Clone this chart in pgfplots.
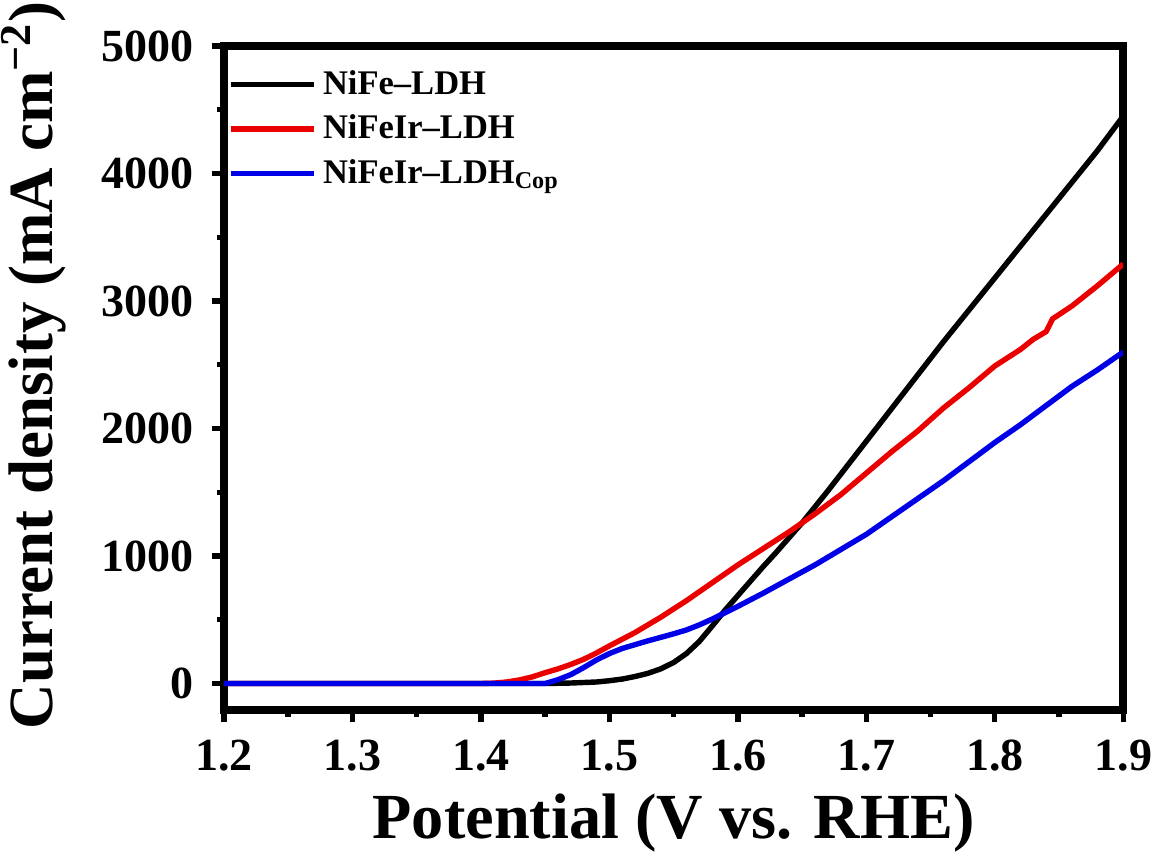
\documentclass[border=0pt]{standalone}
\usepackage{fontspec}
\setmainfont{Liberation Serif}
\usepackage{pgfplots}
\pgfplotsset{compat=1.18}

\definecolor{cblue}{RGB}{0,0,230}
\definecolor{cred}{RGB}{235,0,0}

\begin{document}
\begin{tikzpicture}
\begin{axis}[
    scale only axis,
    width=9.34cm, height=6.9cm,
    xmin=1.2, xmax=1.9,
    ymin=-210, ymax=5000,
    xtick={1.2,1.3,...,1.9},
    ytick={0,1000,...,5000},
    minor x tick num=1,
    minor y tick num=1,
    xtick pos=left, ytick pos=left,
    tick align=outside,
    major tick length=0.125cm,
    minor tick length=0.07cm,
    axis line style={line width=2.3pt},
    every tick/.style={black, line width=1.6pt},
    x tick label style={/pgf/number format/fixed, /pgf/number format/precision=1,
        /pgf/number format/fixed zerofill, inner sep=0pt, anchor=north},
    y tick label style={/pgf/number format/1000 sep={}, inner sep=0pt, anchor=east},
    /pgf/number format/assume math mode=true,
    tick label style={font=\fontsize{13.6}{16}\selectfont\bfseries},
    xticklabel shift=0.18cm,
    yticklabel shift=0.18cm,
    scaled ticks=false,
    xlabel={\fontsize{19}{22}\selectfont\bfseries Potential (V vs. RHE)},
    ylabel={\fontsize{18.6}{22}\selectfont\bfseries Current density (mA cm\textsuperscript{−2})},
    xlabel style={at={(axis description cs:0.5,-0.122)}, anchor=north, inner sep=0.5pt},
    ylabel style={at={(axis description cs:-0.1734,0.519)}, anchor=south, inner sep=0.5pt},
    legend style={draw=none, fill=none, at={(0.0,0.985)}, anchor=north west,
        xshift=-0.07cm,
        font=\fontsize{10.2}{12}\selectfont\bfseries, row sep=0.02cm,
        /tikz/every even column/.append style={column sep=0.05cm}},
    legend cell align=left,
    legend image code/.code={\draw[#1, line width=1.6pt] (0cm,0cm) -- (0.86cm,0cm);},
    every axis plot/.append style={line width=1.6pt},
]
\addplot[black] coordinates {
(1.20,0) (1.45,0) (1.47,4) (1.49,12) (1.50,22) (1.51,35) (1.52,55) (1.53,80)
(1.54,115) (1.55,165) (1.56,235) (1.57,330) (1.58,450) (1.59,575) (1.60,690)
(1.61,805) (1.62,920) (1.63,1030) (1.64,1145) (1.65,1260) (1.66,1385) (1.67,1510)
(1.68,1640) (1.69,1770) (1.70,1900) (1.72,2160) (1.74,2420) (1.76,2680)
(1.78,2930) (1.80,3180) (1.82,3430) (1.84,3680) (1.86,3930) (1.88,4180) (1.90,4450)
};
\addplot[cred] coordinates {
(1.20,0) (1.40,0) (1.41,3) (1.42,12) (1.43,28) (1.44,52) (1.45,85) (1.46,115)
(1.47,150) (1.48,190) (1.49,240) (1.50,295) (1.52,400) (1.54,520) (1.56,650)
(1.58,790) (1.60,930) (1.62,1060) (1.64,1190) (1.65,1260) (1.66,1330) (1.68,1480)
(1.70,1650) (1.72,1820) (1.74,1980) (1.76,2160) (1.78,2320) (1.80,2490)
(1.82,2620) (1.83,2700) (1.84,2760) (1.845,2860) (1.86,2960) (1.88,3120) (1.90,3290)
};
\addplot[cblue] coordinates {
(1.20,0) (1.45,0) (1.46,30) (1.47,70) (1.48,125) (1.49,185) (1.50,235) (1.51,275)
(1.52,305) (1.53,335) (1.54,362) (1.55,390) (1.56,420) (1.57,460) (1.58,505)
(1.59,555) (1.60,605) (1.62,710) (1.64,820) (1.66,930) (1.68,1050) (1.70,1170)
(1.72,1310) (1.74,1450) (1.76,1590) (1.78,1740) (1.80,1890) (1.82,2030)
(1.84,2180) (1.86,2330) (1.88,2460) (1.90,2600)
};
\legend{NiFe–LDH, NiFeIr–LDH, NiFeIr–LDH\textsubscript{Cop}}
\end{axis}
\end{tikzpicture}
\end{document}
